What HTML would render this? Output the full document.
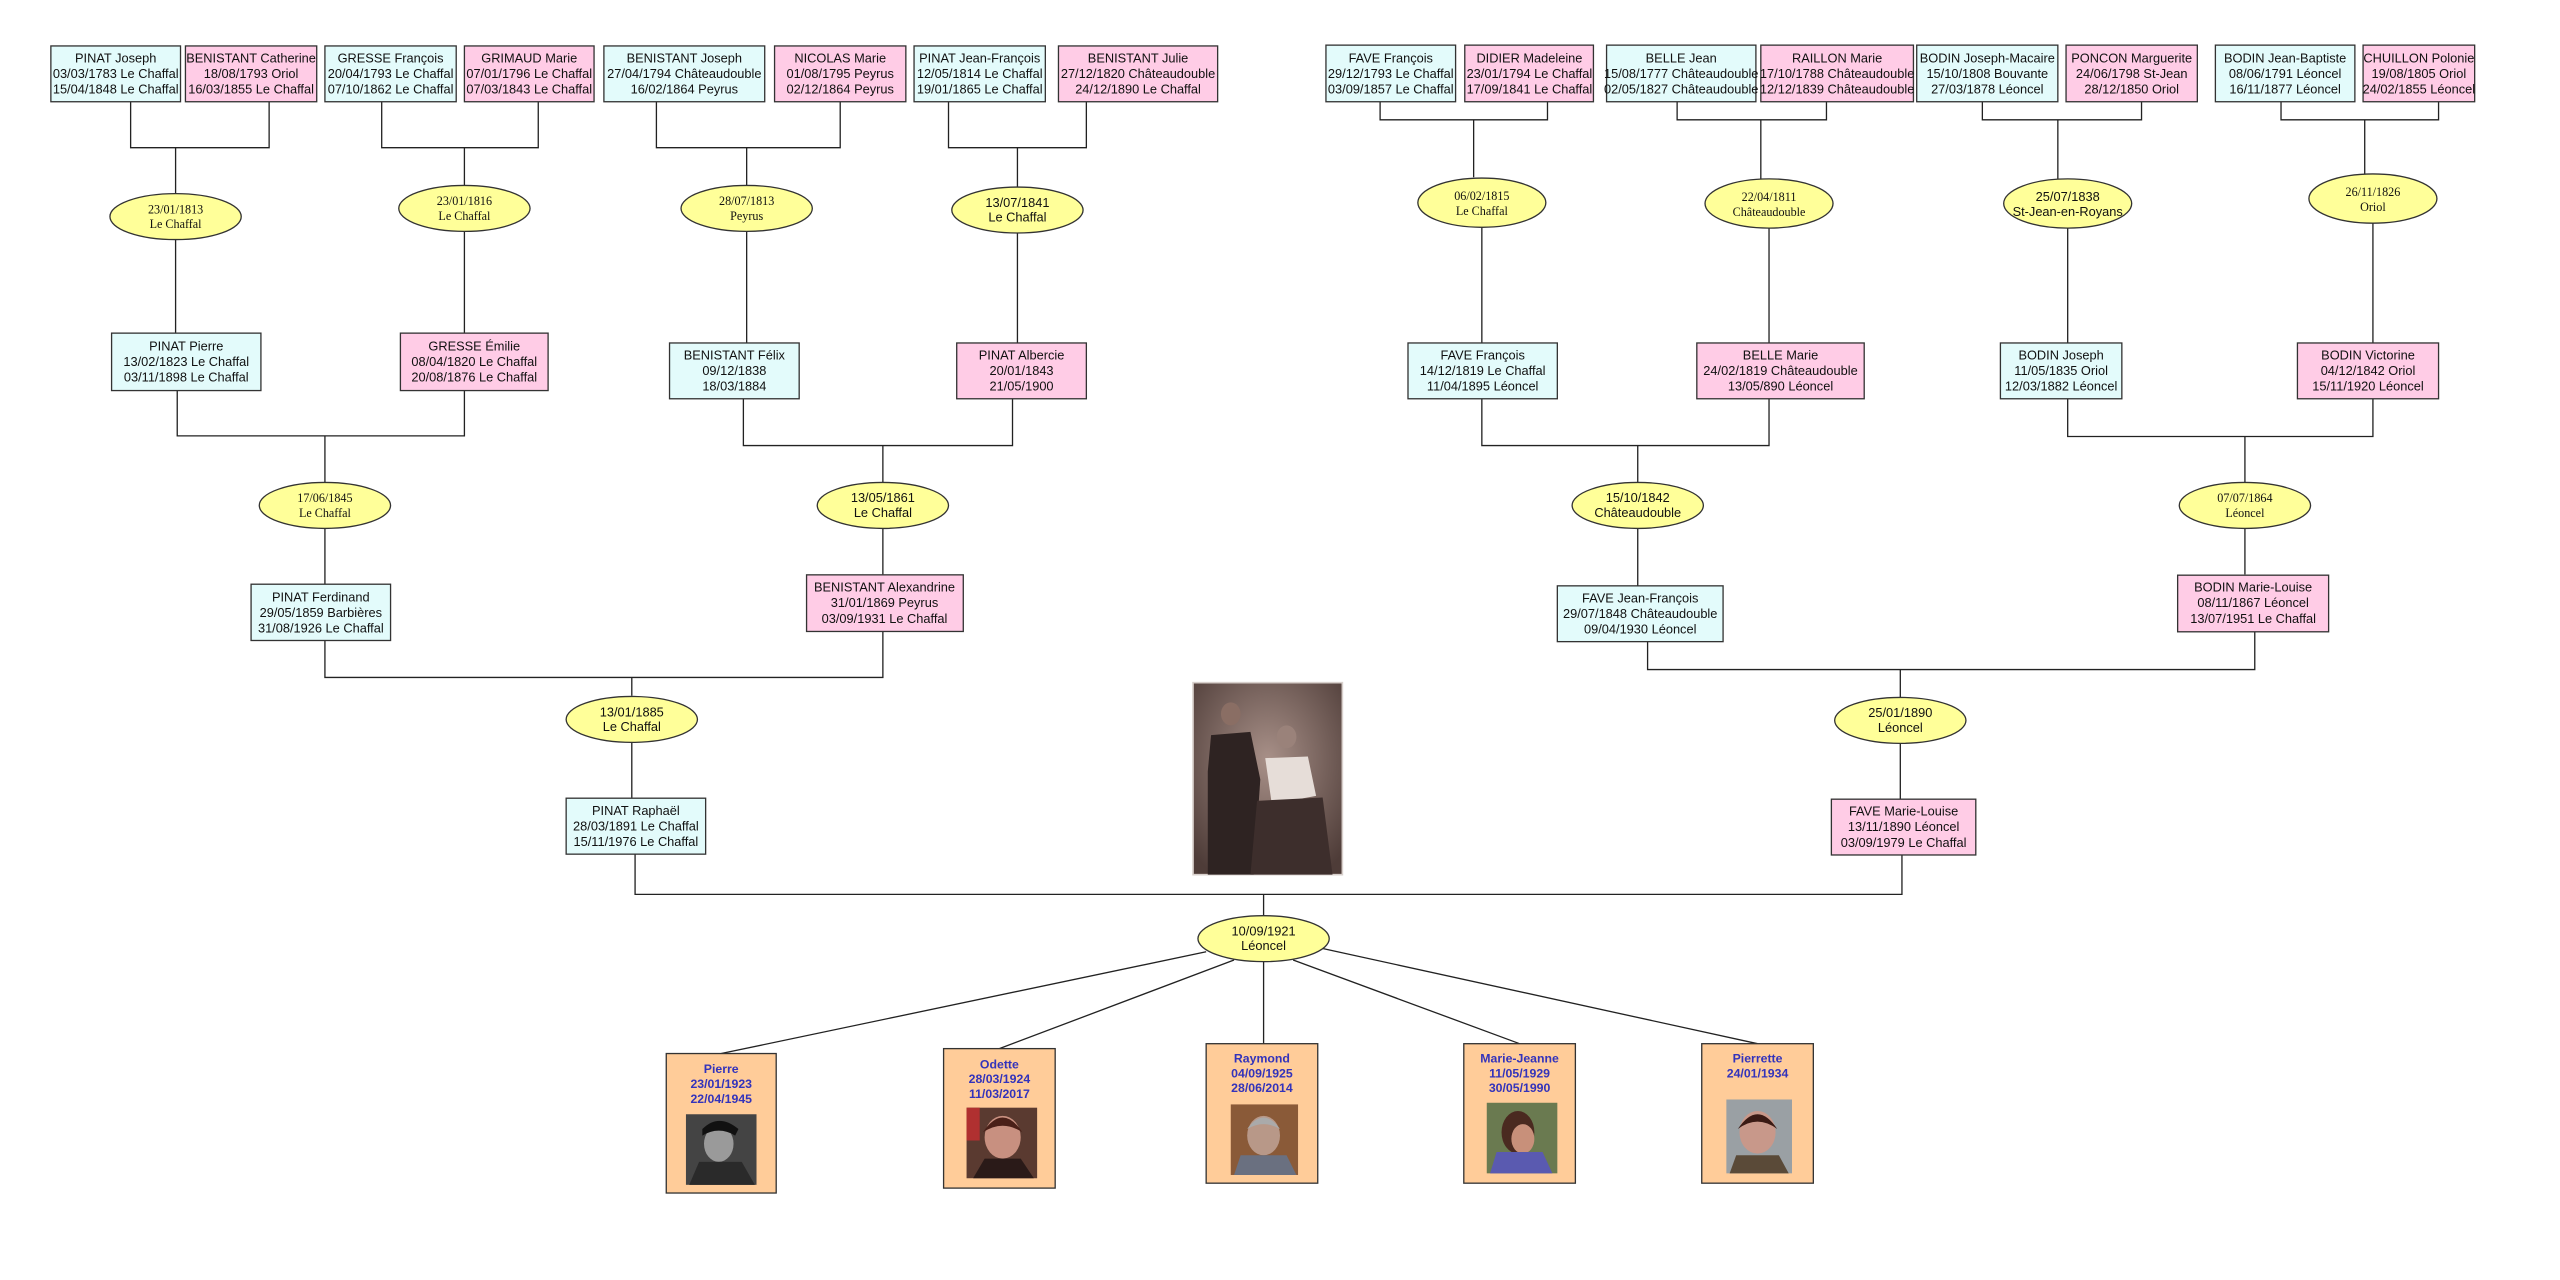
<!DOCTYPE html>
<html><head><meta charset="utf-8">
<style>
html,body{margin:0;padding:0;background:#fff;}
svg{display:block;}
.b{stroke:#333;stroke-width:0.8;}
.c{fill:#e3fbfb;}
.p{fill:#ffcce6;}
.e{fill:#ffff99;stroke:#333;stroke-width:0.8;}
.l{stroke:#222;stroke-width:0.8;fill:none;}
text{font-family:"Liberation Sans",Arial,sans-serif;font-size:7.8px;fill:#111;text-anchor:middle;}
.s{font-family:"Liberation Serif","Times New Roman",serif;font-size:7.4px;}
.k{fill:#3333bb;font-weight:bold;font-size:7.5px;}
.o{fill:#ffcc99;stroke:#333;stroke-width:0.8;}
</style></head>
<body>
<svg width="2560" height="1280" viewBox="0 0 1560 780" xmlns="http://www.w3.org/2000/svg">
<defs>
<radialGradient id="sep" cx="0.5" cy="0.4" r="0.7"><stop offset="0" stop-color="#a89088"/><stop offset="1" stop-color="#4e3c38"/></radialGradient>
</defs>
<rect width="1560" height="780" fill="#fff"/>

<g class="l">
<path d="M79.6 62V90H164V62 M107 90V118"/>
<path d="M232.6 62V90H328V62 M283 90V113"/>
<path d="M400 62V90H512V62 M455 90V113"/>
<path d="M578 62V90H662V62 M620 90V114"/>
<path d="M841 62V73H943V62 M898 73V108"/>
<path d="M1022 62V73H1113V62 M1073 73V109"/>
<path d="M1208 62V73H1305V62 M1254 73V109"/>
<path d="M1390 62V73H1486V62 M1441 73V106"/>
<path d="M107 146V203 M283 141V203 M455 141V209 M620 142V209"/>
<path d="M903 138V209 M1078 139V209 M1260 139V209 M1446 136V209"/>
<path d="M108 238V265.6H283V238 M198 265.6V294"/>
<path d="M453 243V271.5H617V243 M538 271.5V294"/>
<path d="M903 243V271.5H1078V243 M998 271.5V294"/>
<path d="M1260 243V266H1446V243 M1368 266V294"/>
<path d="M198 322V356 M538 322V350 M998 322V357 M1368 322V350"/>
<path d="M198 390V412.8H538V385 M385 412.8V424"/>
<path d="M1004 391V408H1374V385 M1158 408V425"/>
<path d="M385 452V486 M1158 453V487"/>
<path d="M387 520V545H1159V521 M770 545V558"/>
<path d="M735 580L439.5 642 M752 585L609 639 M770 586V636 M788 585L926 636 M806 578L1071 636"/>
</g>

<g>
<rect class="b c" x="31" y="28" width="79" height="34"/>
<text x="70.5" y="38">PINAT Joseph</text><text x="70.5" y="47.5">03/03/1783 Le Chaffal</text><text x="70.5" y="57">15/04/1848 Le Chaffal</text>
<rect class="b p" x="113" y="28" width="80" height="34"/>
<text x="153" y="38">BENISTANT Catherine</text><text x="153" y="47.5">18/08/1793 Oriol</text><text x="153" y="57">16/03/1855 Le Chaffal</text>
<rect class="b c" x="198" y="28" width="80" height="34"/>
<text x="238" y="38">GRESSE François</text><text x="238" y="47.5">20/04/1793 Le Chaffal</text><text x="238" y="57">07/10/1862 Le Chaffal</text>
<rect class="b p" x="283" y="28" width="79" height="34"/>
<text x="322.5" y="38">GRIMAUD Marie</text><text x="322.5" y="47.5">07/01/1796 Le Chaffal</text><text x="322.5" y="57">07/03/1843 Le Chaffal</text>
<rect class="b c" x="368" y="28" width="98" height="34"/>
<text x="417" y="38">BENISTANT Joseph</text><text x="417" y="47.5">27/04/1794 Châteaudouble</text><text x="417" y="57">16/02/1864 Peyrus</text>
<rect class="b p" x="472" y="28" width="80" height="34"/>
<text x="512" y="38">NICOLAS Marie</text><text x="512" y="47.5">01/08/1795 Peyrus</text><text x="512" y="57">02/12/1864 Peyrus</text>
<rect class="b c" x="557" y="28" width="80" height="34"/>
<text x="597" y="38">PINAT Jean-François</text><text x="597" y="47.5">12/05/1814 Le Chaffal</text><text x="597" y="57">19/01/1865 Le Chaffal</text>
<rect class="b p" x="645" y="28" width="97" height="34"/>
<text x="693.5" y="38">BENISTANT Julie</text><text x="693.5" y="47.5">27/12/1820 Châteaudouble</text><text x="693.5" y="57">24/12/1890 Le Chaffal</text>

<rect class="b c" x="808" y="27.5" width="79" height="34.5"/>
<text x="847.5" y="38">FAVE François</text><text x="847.5" y="47.5">29/12/1793 Le Chaffal</text><text x="847.5" y="57">03/09/1857 Le Chaffal</text>
<rect class="b p" x="892.6" y="27.5" width="78.4" height="34.5"/>
<text x="932" y="38">DIDIER Madeleine</text><text x="932" y="47.5">23/01/1794 Le Chaffal</text><text x="932" y="57">17/09/1841 Le Chaffal</text>
<rect class="b c" x="979" y="27.5" width="91" height="34.5"/>
<text x="1024.5" y="38">BELLE Jean</text><text x="1024.5" y="47.5">15/08/1777 Châteaudouble</text><text x="1024.5" y="57">02/05/1827 Châteaudouble</text>
<rect class="b p" x="1073" y="27.5" width="93" height="34.5"/>
<text x="1119.5" y="38">RAILLON Marie</text><text x="1119.5" y="47.5">17/10/1788 Châteaudouble</text><text x="1119.5" y="57">12/12/1839 Châteaudouble</text>
<rect class="b c" x="1168" y="27.5" width="86" height="34.5"/>
<text x="1211" y="38">BODIN Joseph-Macaire</text><text x="1211" y="47.5">15/10/1808 Bouvante</text><text x="1211" y="57">27/03/1878 Léoncel</text>
<rect class="b p" x="1259" y="27.5" width="80" height="34.5"/>
<text x="1299" y="38">PONCON Marguerite</text><text x="1299" y="47.5">24/06/1798 St-Jean</text><text x="1299" y="57">28/12/1850 Oriol</text>
<rect class="b c" x="1350" y="27.5" width="85" height="34.5"/>
<text x="1392.5" y="38">BODIN Jean-Baptiste</text><text x="1392.5" y="47.5">08/06/1791 Léoncel</text><text x="1392.5" y="57">16/11/1877 Léoncel</text>
<rect class="b p" x="1440" y="27.5" width="68" height="34.5"/>
<text x="1474" y="38">CHUILLON Polonie</text><text x="1474" y="47.5">19/08/1805 Oriol</text><text x="1474" y="57">24/02/1855 Léoncel</text>
</g>

<g>
<ellipse class="e" cx="107" cy="132" rx="40" ry="14"/><text class="s" x="107" y="130">23/01/1813</text><text class="s" x="107" y="139">Le Chaffal</text>
<ellipse class="e" cx="283" cy="127" rx="40" ry="14"/><text class="s" x="283" y="125">23/01/1816</text><text class="s" x="283" y="134">Le Chaffal</text>
<ellipse class="e" cx="455" cy="127" rx="40" ry="14"/><text class="s" x="455" y="125">28/07/1813</text><text class="s" x="455" y="134">Peyrus</text>
<ellipse class="e" cx="620" cy="128" rx="40" ry="14"/><text x="620" y="126">13/07/1841</text><text x="620" y="135">Le Chaffal</text>
<ellipse class="e" cx="903" cy="123.5" rx="39" ry="15"/><text class="s" x="903" y="122">06/02/1815</text><text class="s" x="903" y="131">Le Chaffal</text>
<ellipse class="e" cx="1078" cy="124" rx="39" ry="15"/><text class="s" x="1078" y="122.5">22/04/1811</text><text class="s" x="1078" y="131.5">Châteaudouble</text>
<ellipse class="e" cx="1260" cy="124" rx="39" ry="15"/><text x="1260" y="122.5">25/07/1838</text><text x="1260" y="131.5">St-Jean-en-Royans</text>
<ellipse class="e" cx="1446" cy="121" rx="39" ry="15"/><text class="s" x="1446" y="119.5">26/11/1826</text><text class="s" x="1446" y="128.5">Oriol</text>
</g>

<g>
<rect class="b c" x="68" y="203" width="91" height="35"/>
<text x="113.5" y="213.5">PINAT Pierre</text><text x="113.5" y="223">13/02/1823 Le Chaffal</text><text x="113.5" y="232.5">03/11/1898 Le Chaffal</text>
<rect class="b p" x="244" y="203" width="90" height="35"/>
<text x="289" y="213.5">GRESSE Émilie</text><text x="289" y="223">08/04/1820 Le Chaffal</text><text x="289" y="232.5">20/08/1876 Le Chaffal</text>
<rect class="b c" x="408" y="209" width="79" height="34"/>
<text x="447.5" y="219">BENISTANT Félix</text><text x="447.5" y="228.5">09/12/1838</text><text x="447.5" y="238">18/03/1884</text>
<rect class="b p" x="583" y="209" width="79" height="34"/>
<text x="622.5" y="219">PINAT Albercie</text><text x="622.5" y="228.5">20/01/1843</text><text x="622.5" y="238">21/05/1900</text>
<rect class="b c" x="858" y="209" width="91" height="34"/>
<text x="903.5" y="219">FAVE François</text><text x="903.5" y="228.5">14/12/1819 Le Chaffal</text><text x="903.5" y="238">11/04/1895 Léoncel</text>
<rect class="b p" x="1034" y="209" width="102" height="34"/>
<text x="1085" y="219">BELLE Marie</text><text x="1085" y="228.5">24/02/1819 Châteaudouble</text><text x="1085" y="238">13/05/890 Léoncel</text>
<rect class="b c" x="1219" y="209" width="74" height="34"/>
<text x="1256" y="219">BODIN Joseph</text><text x="1256" y="228.5">11/05/1835 Oriol</text><text x="1256" y="238">12/03/1882 Léoncel</text>
<rect class="b p" x="1400" y="209" width="86" height="34"/>
<text x="1443" y="219">BODIN Victorine</text><text x="1443" y="228.5">04/12/1842 Oriol</text><text x="1443" y="238">15/11/1920 Léoncel</text>
</g>

<g>
<ellipse class="e" cx="198" cy="308" rx="40" ry="14"/><text class="s" x="198" y="306">17/06/1845</text><text class="s" x="198" y="315">Le Chaffal</text>
<ellipse class="e" cx="538" cy="308" rx="40" ry="14"/><text x="538" y="306">13/05/1861</text><text x="538" y="315">Le Chaffal</text>
<ellipse class="e" cx="998" cy="308" rx="40" ry="14"/><text x="998" y="306">15/10/1842</text><text x="998" y="315">Châteaudouble</text>
<ellipse class="e" cx="1368" cy="308" rx="40" ry="14"/><text class="s" x="1368" y="306">07/07/1864</text><text class="s" x="1368" y="315">Léoncel</text>
</g>

<g>
<rect class="b c" x="153" y="356" width="85" height="34.3"/>
<text x="195.5" y="366.5">PINAT Ferdinand</text><text x="195.5" y="376">29/05/1859 Barbières</text><text x="195.5" y="385.5">31/08/1926 Le Chaffal</text>
<rect class="b p" x="491.5" y="350.3" width="95.5" height="34.5"/>
<text x="539" y="360.5">BENISTANT Alexandrine</text><text x="539" y="370">31/01/1869 Peyrus</text><text x="539" y="379.5">03/09/1931 Le Chaffal</text>
<rect class="b c" x="949" y="357" width="101" height="34"/>
<text x="999.5" y="367">FAVE Jean-François</text><text x="999.5" y="376.5">29/07/1848 Châteaudouble</text><text x="999.5" y="386">09/04/1930 Léoncel</text>
<rect class="b p" x="1327" y="350.5" width="92" height="34.5"/>
<text x="1373" y="360.5">BODIN Marie-Louise</text><text x="1373" y="370">08/11/1867 Léoncel</text><text x="1373" y="379.5">13/07/1951 Le Chaffal</text>
</g>

<ellipse class="e" cx="385" cy="438.4" rx="40" ry="14"/><text x="385" y="436.5">13/01/1885</text><text x="385" y="445.5">Le Chaffal</text>
<ellipse class="e" cx="1158" cy="439" rx="40" ry="14"/><text x="1158" y="437">25/01/1890</text><text x="1158" y="446">Léoncel</text>

<rect class="b c" x="345" y="486.4" width="85" height="34.1"/>
<text x="387.5" y="496.5">PINAT Raphaël</text><text x="387.5" y="506">28/03/1891 Le Chaffal</text><text x="387.5" y="515.5">15/11/1976 Le Chaffal</text>
<rect class="b p" x="1116" y="487" width="88" height="34"/>
<text x="1160" y="497">FAVE Marie-Louise</text><text x="1160" y="506.5">13/11/1890 Léoncel</text><text x="1160" y="516">03/09/1979 Le Chaffal</text>

<g>
<rect x="727" y="416" width="91" height="117" fill="url(#sep)"/>
<rect x="727" y="416" width="91" height="117" fill="none" stroke="#d8d0cc" stroke-width="1"/>
<ellipse cx="750" cy="435" rx="6" ry="7" fill="#8a6e64"/>
<path d="M738 448 L762 446 L768 475 L764 533 L736 533 L736 470Z" fill="#2e2322"/>
<ellipse cx="784" cy="449" rx="6" ry="7" fill="#9a827a"/>
<path d="M771 462 L797 461 L802 485 L775 490Z" fill="#e6ddd8"/>
<path d="M766 488 L806 486 L812 533 L762 533Z" fill="#3d2e2c"/>
</g>

<ellipse class="e" cx="770" cy="572" rx="40" ry="14"/><text x="770" y="570">10/09/1921</text><text x="770" y="579">Léoncel</text>

<g>
<rect class="o" x="406" y="642" width="67" height="85"/>
<text class="k" x="439.5" y="654">Pierre</text><text class="k" x="439.5" y="663">23/01/1923</text><text class="k" x="439.5" y="672">22/04/1945</text>
<rect x="418" y="679" width="43" height="43" fill="#444"/><ellipse cx="438" cy="697" rx="9" ry="11" fill="#9a9a9a"/><path d="M428 688 Q438 678 450 688 L448 692 Q438 686 428 692Z" fill="#111"/><path d="M420 722 L426 708 L452 708 L460 722Z" fill="#2a2a2a"/>

<rect class="o" x="575" y="639" width="68" height="85"/>
<text class="k" x="609" y="651">Odette</text><text class="k" x="609" y="660">28/03/1924</text><text class="k" x="609" y="669">11/03/2017</text>
<rect x="589" y="675" width="43" height="43" fill="#5a3a30"/><rect x="589" y="675" width="8" height="20" fill="#b03030"/><ellipse cx="611" cy="693" rx="11" ry="13" fill="#c89080"/><path d="M599 690 Q611 672 623 690 Q611 682 599 690Z" fill="#4a2018"/><path d="M593 718 L600 706 L622 706 L630 718Z" fill="#2a1a18"/>

<rect class="o" x="735" y="636" width="68" height="85"/>
<text class="k" x="769" y="647.5">Raymond</text><text class="k" x="769" y="656.5">04/09/1925</text><text class="k" x="769" y="665.5">28/06/2014</text>
<rect x="750" y="673" width="41" height="43" fill="#8a5a38"/><ellipse cx="770" cy="692" rx="10" ry="12" fill="#b89888"/><path d="M760 688 Q770 674 780 688 Q770 682 760 688Z" fill="#aaa"/><path d="M752 716 L756 704 L784 704 L790 716Z" fill="#6a7080"/>

<rect class="o" x="892" y="636" width="68" height="85"/>
<text class="k" x="926" y="647.5">Marie-Jeanne</text><text class="k" x="926" y="656.5">11/05/1929</text><text class="k" x="926" y="665.5">30/05/1990</text>
<rect x="906" y="672" width="43" height="43" fill="#6a7a50"/><ellipse cx="925" cy="690" rx="10" ry="13" fill="#4a2a20"/><ellipse cx="928" cy="694" rx="7" ry="9" fill="#c8907a"/><path d="M908 715 L912 702 L940 702 L946 715Z" fill="#5a5ab0"/>

<rect class="o" x="1037" y="636" width="68" height="85"/>
<text class="k" x="1071" y="647.5">Pierrette</text><text class="k" x="1071" y="656.5">24/01/1934</text>
<rect x="1052" y="670" width="40" height="45" fill="#9aa0a4"/><ellipse cx="1071" cy="690" rx="11" ry="13" fill="#c8988a"/><path d="M1059 688 Q1071 670 1083 688 Q1071 679 1059 688Z" fill="#3a1a14"/><path d="M1054 715 L1058 704 L1084 704 L1090 715Z" fill="#5a4a38"/>
</g>
</svg>
</body></html>
